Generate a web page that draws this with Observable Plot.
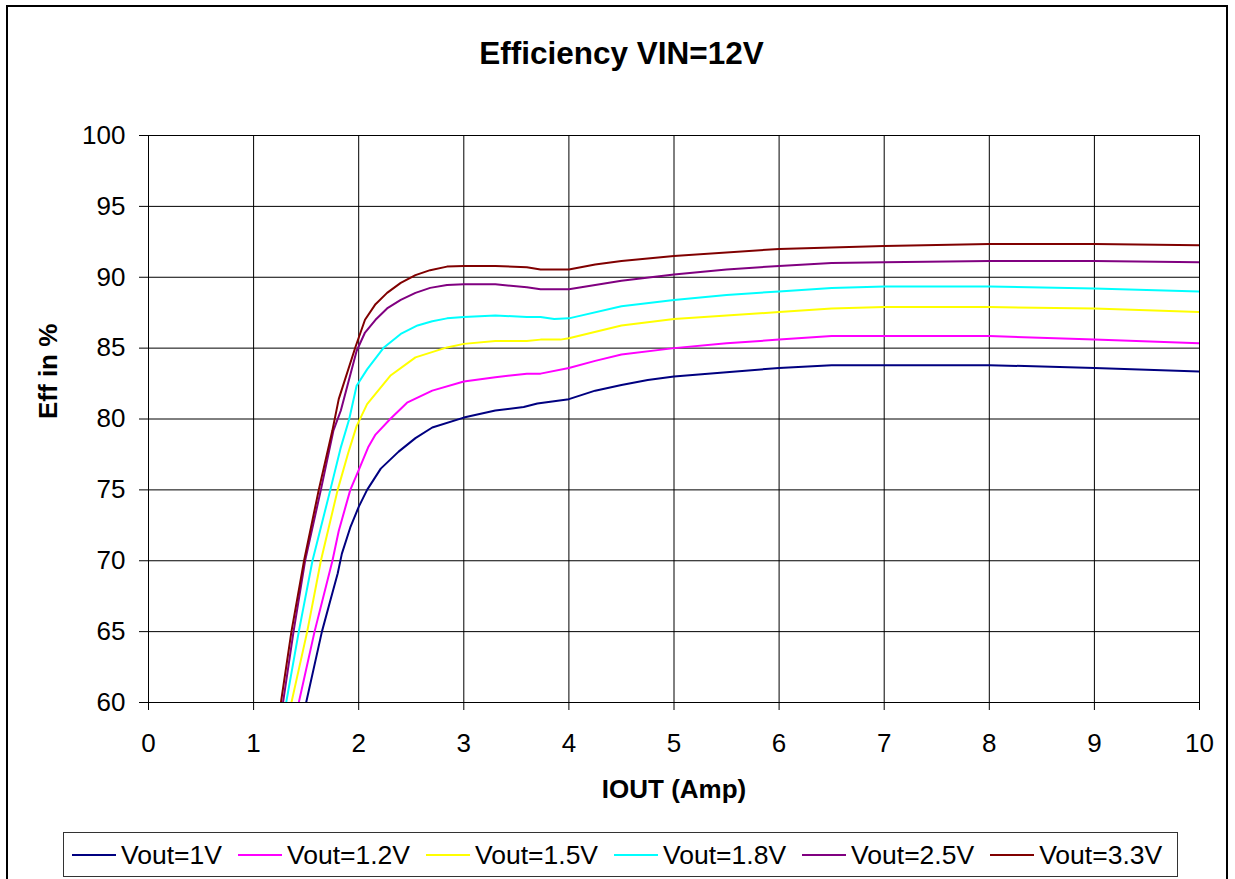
<!DOCTYPE html>
<html>
<head>
<meta charset="utf-8">
<script src="https://cdn.jsdelivr.net/npm/d3@7"></script>
<script src="https://cdn.jsdelivr.net/npm/@observablehq/plot@0.6"></script>
<style>
  body { margin: 0; background: #fff; font-family: "Liberation Sans", Arial, sans-serif; }
  #wrap { position: relative; width: 1235px; height: 879px; overflow: hidden; background: #fff; }
  #chart { position: absolute; left: 0; top: 0; }
  #border { position: absolute; left: 6px; top: 5px; width: 1222px; height: 900px; border: 2px solid #000; pointer-events: none; z-index: 5; box-sizing: border-box; }
  #legend { position: absolute; left: 63px; top: 832px; width: 1115px; height: 45px; border: 1px solid #333; box-sizing: border-box; display: flex; align-items: center; padding-left: 8px; gap: 16px; background: #fff; z-index: 4; }
  .item { display: flex; align-items: center; gap: 5px; }
  .sw { width: 44px; height: 2px; }
  .lab { font-size: 26.5px; line-height: 26px; color: #000; }
</style>
</head>
<body>
<div id="wrap">
  <div id="chart"></div>
  <div id="legend"></div>
  <div id="border"></div>
</div>
<script>
// ---- data ----
const seriesNames = ["Vout=1V", "Vout=1.2V", "Vout=1.5V", "Vout=1.8V", "Vout=2.5V", "Vout=3.3V"];
const seriesColors = ["#000080", "#FF00FF", "#FFFF00", "#00FFFF", "#800080", "#800000"];

const iout_1V = [1.50, 1.65, 1.73, 1.80, 1.84, 1.92, 2.0, 2.08, 2.21, 2.38, 2.54, 2.70, 3.0, 3.3, 3.57, 3.7, 4.0, 4.25, 4.5, 4.75, 5.0, 5.5, 6.0, 6.5, 7.0, 8.0, 9.0, 10.0];
const eff_1V  = [60, 65, 67.2, 69.1, 70.5, 72.35, 73.8, 75.0, 76.5, 77.7, 78.65, 79.4, 80.1, 80.6, 80.85, 81.1, 81.4, 82.0, 82.4, 82.75, 83.0, 83.3, 83.6, 83.8, 83.8, 83.8, 83.6, 83.35];

const iout_1V2 = [1.43, 1.58, 1.75, 1.81, 1.92, 2.0, 2.09, 2.16, 2.30, 2.46, 2.70, 3.0, 3.3, 3.6, 3.73, 4.0, 4.25, 4.5, 5.0, 5.5, 6.0, 6.5, 7.0, 8.0, 9.0, 10.0];
const eff_1V2  = [60, 65, 70, 72.1, 75, 76.4, 78.0, 78.9, 80.0, 81.15, 82.0, 82.65, 82.95, 83.2, 83.2, 83.6, 84.1, 84.55, 85.0, 85.35, 85.6, 85.85, 85.85, 85.85, 85.6, 85.35];

const iout_1V5 = [1.36, 1.51, 1.64, 1.80, 1.90, 1.98, 2.08, 2.30, 2.54, 2.84, 3.0, 3.3, 3.6, 3.73, 3.92, 4.0, 4.5, 5.0, 5.5, 6.0, 6.5, 7.0, 8.0, 9.0, 10.0];
const eff_1V5  = [60, 65, 70, 75, 77.6, 79.5, 81.05, 83.05, 84.35, 85.05, 85.3, 85.5, 85.5, 85.6, 85.6, 85.7, 86.6, 87.05, 87.3, 87.55, 87.8, 87.9, 87.9, 87.8, 87.55];

const iout_1V8 = [1.31, 1.43, 1.56, 1.73, 1.83, 1.91, 1.98, 2.08, 2.24, 2.40, 2.56, 2.70, 2.84, 3.0, 3.3, 3.6, 3.73, 3.86, 4.0, 4.5, 5.0, 5.5, 6.0, 6.5, 7.0, 8.0, 9.0, 10.0];
const eff_1V8  = [60, 65, 70, 75, 78.0, 80.0, 82.35, 83.5, 85.05, 86.0, 86.6, 86.9, 87.1, 87.2, 87.3, 87.2, 87.2, 87.05, 87.1, 87.95, 88.4, 88.75, 89.0, 89.25, 89.35, 89.35, 89.2, 89.0];

const iout_2V5 = [1.28, 1.38, 1.49, 1.64, 1.76, 1.83, 1.98, 2.06, 2.16, 2.27, 2.40, 2.54, 2.68, 2.84, 3.0, 3.3, 3.6, 3.73, 4.0, 4.25, 4.5, 5.0, 5.5, 6.0, 6.5, 7.0, 8.0, 9.0, 10.0];
const eff_2V5  = [60, 65, 70, 75, 79.2, 80.6, 84.8, 86.1, 87.0, 87.8, 88.4, 88.9, 89.25, 89.45, 89.5, 89.5, 89.3, 89.15, 89.15, 89.45, 89.75, 90.2, 90.55, 90.8, 91.0, 91.05, 91.15, 91.15, 91.05];

const iout_3V3 = [1.26, 1.36, 1.48, 1.62, 1.75, 1.81, 1.97, 2.06, 2.16, 2.27, 2.40, 2.54, 2.68, 2.84, 3.0, 3.3, 3.6, 3.73, 4.0, 4.25, 4.5, 5.0, 6.0, 6.5, 7.0, 8.0, 9.0, 10.0];
const eff_3V3  = [60, 65, 70, 75, 79.2, 81.4, 85.1, 87.0, 88.1, 88.9, 89.6, 90.15, 90.5, 90.75, 90.8, 90.8, 90.7, 90.55, 90.55, 90.9, 91.15, 91.5, 92.0, 92.1, 92.2, 92.35, 92.35, 92.25];

const xTicks = [0, 1, 2, 3, 4, 5, 6, 7, 8, 9, 10];
const yTicks = [60, 65, 70, 75, 80, 85, 90, 95, 100];

const titleText = "Efficiency VIN=12V";
const xLabel = "IOUT (Amp)";
const yLabel = "Eff in %";

// ---- tidy table ----
const seriesX = [iout_1V, iout_1V2, iout_1V5, iout_1V8, iout_2V5, iout_3V3];
const seriesY = [eff_1V, eff_1V2, eff_1V5, eff_1V8, eff_2V5, eff_3V3];
const rows = [];
seriesNames.forEach((name, k) => {
  seriesX[k].forEach((x, i) => rows.push({series: name, iout: x, eff: seriesY[k][i]}));
});

const chart = Plot.plot({
  width: 1235,
  height: 879,
  marginLeft: 148,
  marginRight: 36,
  marginTop: 135,
  marginBottom: 177,
  style: {fontFamily: "'Liberation Sans', Arial, sans-serif", fontSize: "26px", background: "transparent", color: "#000"},
  x: {domain: [0, 10]},
  y: {domain: [60, 100]},
  color: {domain: seriesNames, range: seriesColors},
  marks: [
    Plot.ruleX(xTicks, {stroke: "#000", strokeWidth: 1}),
    Plot.ruleY(yTicks, {stroke: "#000", strokeWidth: 1}),
    Plot.axisX({ticks: xTicks, tickSize: 8, tickPadding: 23, label: null, tickFormat: d => String(d)}),
    Plot.axisY({ticks: yTicks, tickSize: 9, tickPadding: 14, label: null, tickFormat: d => String(d)}),
    Plot.line(rows, {x: "iout", y: "eff", z: "series", stroke: "series", strokeWidth: 2, clip: true}),
    Plot.text([titleText], {frameAnchor: "top", dx: -52.5, dy: -72, lineAnchor: "bottom", fontSize: 31.5, fontWeight: "bold"}),
    Plot.text([xLabel], {frameAnchor: "bottom", dy: 95, lineAnchor: "bottom", fontSize: 26, fontWeight: "bold"}),
    Plot.text([yLabel], {frameAnchor: "left", dx: -100, rotate: -90, fontSize: 26, fontWeight: "bold"})
  ]
});
document.getElementById("chart").appendChild(chart);

// ---- legend ----
const legend = document.getElementById("legend");
seriesNames.forEach((name, k) => {
  const item = document.createElement("div");
  item.className = "item";
  const sw = document.createElement("div");
  sw.className = "sw";
  sw.style.background = seriesColors[k];
  const lab = document.createElement("span");
  lab.className = "lab";
  lab.textContent = name;
  item.appendChild(sw);
  item.appendChild(lab);
  legend.appendChild(item);
});
</script>
</body>
</html>
